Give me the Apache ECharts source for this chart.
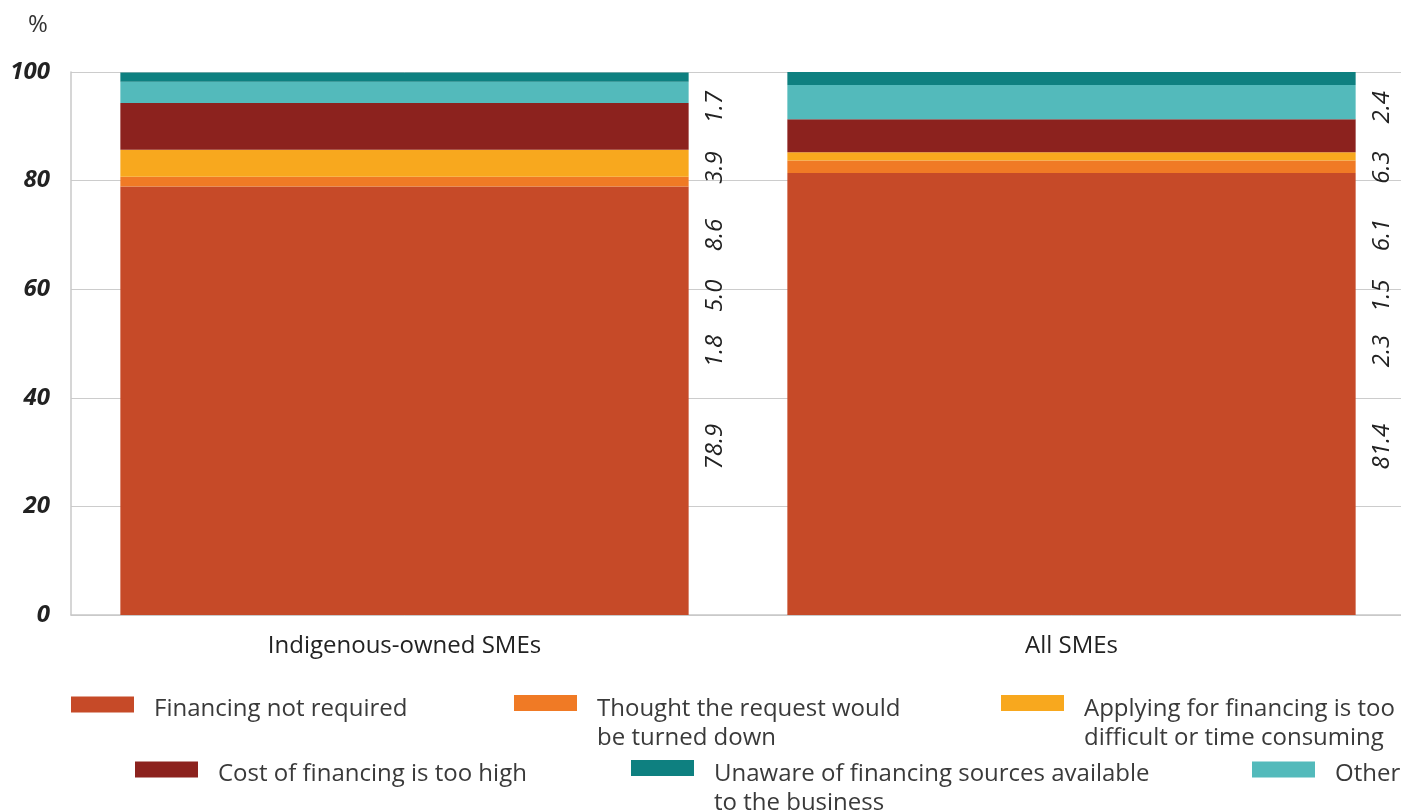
<!DOCTYPE html>
<html>
<head>
<meta charset="utf-8">
<title>Reasons for not applying for financing</title>
<script src="https://cdn.jsdelivr.net/npm/echarts@6/dist/echarts.min.js"></script>
<style>
  html, body { margin: 0; padding: 0; background: #fff; overflow: hidden; }
  #chart { width: 1405px; height: 812px; }
</style>
</head>
<body>
<div id="chart"></div>
<script>
// Categories on the x axis
const categories = ['Indigenous-owned SMEs', 'All SMEs'];

// Share of SMEs (%) by reason, bottom of stack first
const seriesNames = [
  'Financing not required',
  'Thought the request would be turned down',
  'Applying for financing is too difficult or time consuming',
  'Cost of financing is too high',
  'Other',
  'Unaware of financing sources available to the business'
];
const notRequired = [78.9, 81.4];
const turnedDown = [1.8, 2.3];
const tooDifficult = [5.0, 1.5];
const costTooHigh = [8.6, 6.1];
const other = [3.9, 6.3];
const unaware = [1.7, 2.4];
const seriesValues = [notRequired, turnedDown, tooDifficult, costTooHigh, other, unaware];

// Y axis ticks
const yTicks = [0, 20, 40, 60, 80, 100];

const colors = ['#C64A28', '#F07A25', '#F8A81E', '#8C221E', '#53BABB', '#0E8080'];

// Value labels sit in a column beside each bar; slot height (axis units) per series
const labelSlots = [31, 48.6, 58.8, 70, 82.4, 93.5];

const GRID = { left: 71, top: 72, width: 1334, height: 543 };
const FONT = '"Open Sans", "Noto Sans", sans-serif';

// Legend text, wrapped over lines
const legendLines = {
  'Financing not required': ['Financing not required'],
  'Thought the request would be turned down': ['Thought the request would', 'be turned down'],
  'Applying for financing is too difficult or time consuming': ['Applying for financing is too', 'difficult or time consuming'],
  'Cost of financing is too high': ['Cost of financing is too high'],
  'Other': ['Other'],
  'Unaware of financing sources available to the business': ['Unaware of financing sources available', 'to the business']
};

// Legend slots: [series index, left, top of the legend box]
const legendSlots = [
  [0, 71, 688],
  [1, 514, 672],
  [2, 1001, 672],
  [3, 135, 753],
  [5, 631, 737],
  [4, 1252, 753]
];

const LEGEND_LINE = 29;
const SWATCH_H = 16;

const chart = echarts.init(document.getElementById('chart'), null, { renderer: 'canvas' });

const series = seriesNames.map((name, i) => ({
  name: name,
  type: 'bar',
  stack: 'total',
  barWidth: '85.2%',
  itemStyle: { color: colors[i] },
  data: seriesValues[i],
  emphasis: { disabled: true },
  label: {
    show: true,
    rotate: 90,
    formatter: p => Number(p.value).toFixed(1),
    fontFamily: FONT,
    fontStyle: 'italic',
    fontSize: 24,
    color: '#222'
  },
  labelLayout: params => ({
    x: params.rect.x + params.rect.width + 27,
    y: GRID.top + GRID.height * (1 - labelSlots[i] / 100),
    align: 'center',
    verticalAlign: 'middle'
  })
}));

// Each legend entry is placed on its own; a small spacer line on top nudges the
// text so its first line sits level with the swatch
const legends = legendSlots.map(([idx, left, top]) => {
  const name = seriesNames[idx];
  const lines = legendLines[name];
  const gap = lines.length > 1 ? 42 : 9;
  const textStyle = { fontFamily: FONT, fontSize: 24, color: '#3a3a3a', lineHeight: LEGEND_LINE };
  return {
    data: [{ name: name, icon: 'rect' }],
    left: left,
    top: top,
    padding: 0,
    itemWidth: 63,
    itemHeight: SWATCH_H,
    selectedMode: false,
    formatter: n => '{gap| }\n' + legendLines[n].map(l => '{t|' + l + '}').join('\n'),
    textStyle: {
      fontFamily: FONT,
      fontSize: 24,
      color: '#3a3a3a',
      padding: [0, 0, 0, 15],
      rich: {
        gap: { fontSize: 4, lineHeight: gap },
        t: textStyle
      }
    }
  };
});

chart.setOption({
  animation: false,
  title: {
    text: '%',
    left: 23,
    top: 8,
    textStyle: { fontFamily: FONT, fontSize: 24, fontWeight: 'normal', color: '#333' }
  },
  grid: GRID,
  legend: legends,
  xAxis: {
    type: 'category',
    data: categories,
    axisLine: { lineStyle: { color: '#c8c8c8', width: 1.5 } },
    axisTick: { show: false },
    axisLabel: {
      fontFamily: FONT,
      fontSize: 24,
      color: '#222',
      margin: 19
    }
  },
  yAxis: {
    type: 'value',
    min: yTicks[0],
    max: yTicks[yTicks.length - 1],
    interval: yTicks[1] - yTicks[0],
    axisLine: { show: true, lineStyle: { color: '#c8c8c8', width: 1.5 } },
    axisTick: { show: false },
    splitLine: { lineStyle: { color: '#cccccc', width: 1 } },
    axisLabel: {
      fontFamily: FONT,
      fontSize: 24,
      fontWeight: 'bold',
      fontStyle: 'italic',
      color: '#222',
      margin: 21
    }
  },
  series: series
});
</script>
</body>
</html>
